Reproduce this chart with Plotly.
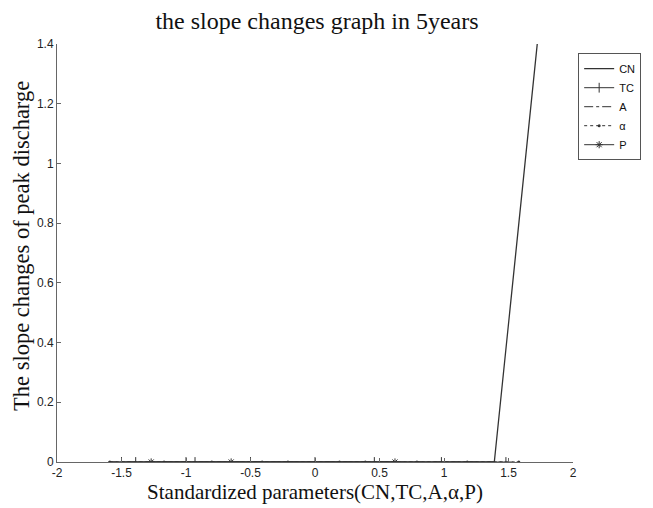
import plotly.graph_objects as go

# Data
cn_x = [-1.6, 1.39, 1.73]
cn_y = [0, 0, 1.43]
tc_x = [-1.5, -1.39, -1.0, -0.93, -0.5, 0.0, 0.46, 0.98, 1.48]
tc_y = [0, 0, 0, 0, 0, 0, 0, 0, 0]
a_x = [-1.6, -0.8, 0.0, 0.8, 1.6]
a_y = [0, 0, 0, 0, 0]
al_x = [-1.59, -1.17, -0.8, -0.41, -0.21, 0.19, 0.39, 0.79, 1.18, 1.58]
al_y = [0, 0, 0, 0, 0, 0, 0, 0, 0, 0]
p_x = [-1.27, -0.65, 0.62]
p_y = [0, 0, 0]

xticks = [-2, -1.5, -1, -0.5, 0, 0.5, 1, 1.5, 2]
xticklabels = ["-2", "-1.5", "-1", "-0.5", "0", "0.5", "1", "1.5", "2"]
yticks = [0, 0.2, 0.4, 0.6, 0.8, 1.0, 1.2, 1.4]
yticklabels = ["0", "0.2", "0.4", "0.6", "0.8", "1", "1.2", "1.4"]

col = "#333333"
fig = go.Figure()
fig.add_trace(go.Scatter(x=cn_x, y=cn_y, mode="lines", name="CN",
                         line=dict(color=col, width=1.3)))
fig.add_trace(go.Scatter(x=tc_x, y=tc_y, mode="lines+markers", name="TC",
                         line=dict(color=col, width=1),
                         marker=dict(symbol="line-ns-open", size=7, color=col, line=dict(width=1, color=col))))
fig.add_trace(go.Scatter(x=a_x, y=a_y, mode="lines", name="A",
                         line=dict(color=col, width=1, dash="dashdot")))
fig.add_trace(go.Scatter(x=al_x, y=al_y, mode="lines+markers", name="α",
                         line=dict(color=col, width=1, dash="dot"),
                         marker=dict(symbol="circle", size=3, color=col)))
fig.add_trace(go.Scatter(x=p_x, y=p_y, mode="lines+markers", name="P",
                         line=dict(color=col, width=1),
                         marker=dict(symbol="asterisk-open", size=6, color=col, line=dict(width=1, color=col))))

fig.update_layout(
    width=653, height=508,
    margin=dict(l=57, r=72, t=44, b=46),
    paper_bgcolor="white", plot_bgcolor="white",
    title=dict(text="the slope changes graph in 5years", x=(57 + 577) / 2 / 653, xanchor="center",
               y=1 - 21 / 508, yanchor="middle",
               font=dict(family="Liberation Serif", size=24, color="#111"), automargin=False),
    font=dict(family="Liberation Sans", size=12, color="#222"),
    legend=dict(x=1.01, y=0.978, xanchor="left", yanchor="top",
                bordercolor="#555", borderwidth=1, bgcolor="white",
                font=dict(family="Liberation Sans", size=11, color="#111"),
                tracegroupgap=0, itemwidth=30),
    showlegend=True,
    annotations=[dict(text="The slope changes of peak discharge", textangle=-90,
                      xref="paper", yref="paper", x=0, y=0.517, xanchor="center", yanchor="middle",
                      xshift=-35, showarrow=False,
                      font=dict(family="Liberation Serif", size=22.5, color="#111"))],
)
fig.update_xaxes(range=[-2, 2], tickvals=xticks, ticktext=xticklabels, automargin=False,
                 showgrid=False, zeroline=False, showline=True, linecolor="#666", linewidth=1,
                 ticks="inside", ticklen=4, tickcolor="#666", mirror=False,
                 title=dict(text="Standardized parameters(CN,TC,A,α,P)", standoff=2,
                            font=dict(family="Liberation Serif", size=21, color="#111")),
                 tickfont=dict(size=12, color="#222"))
fig.update_yaxes(range=[0, 1.4], tickvals=yticks, ticktext=yticklabels, automargin=False,
                 showgrid=False, zeroline=False, showline=True, linecolor="#666", linewidth=1,
                 ticks="inside", ticklen=4, tickcolor="#666", mirror=False,
                 tickfont=dict(size=12, color="#222"))

fig.write_html("out.html", config={"displayModeBar": False},
               post_script="document.body.style.margin='0';")
